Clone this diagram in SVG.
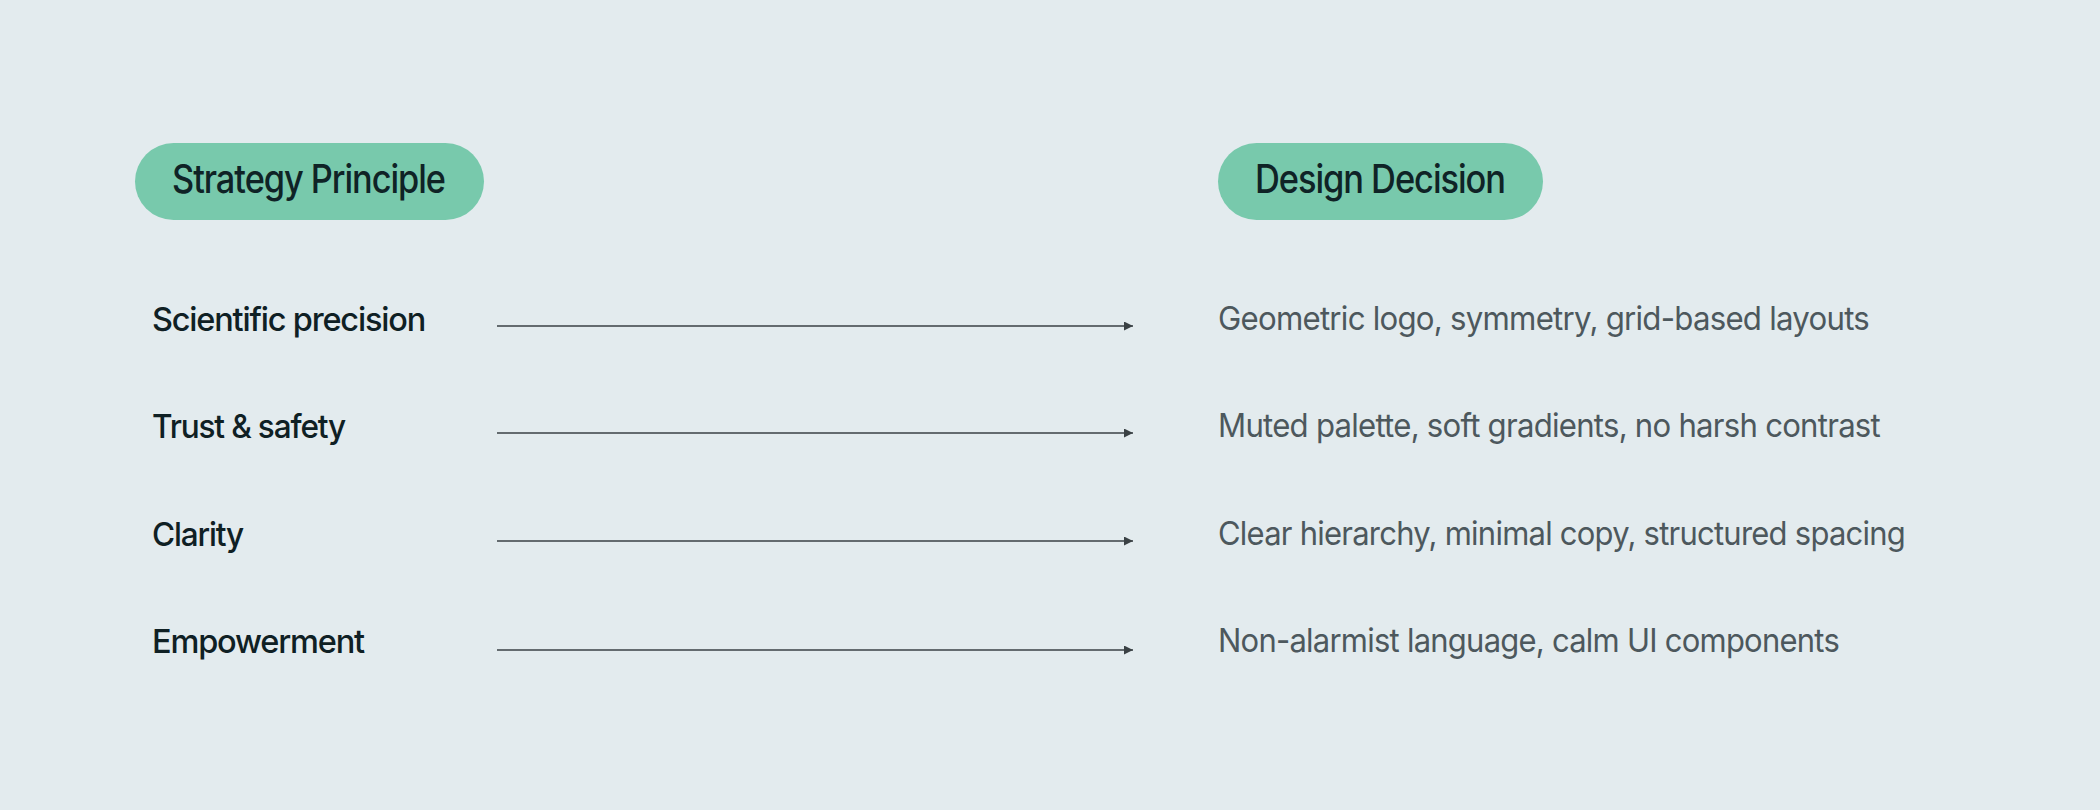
<svg xmlns="http://www.w3.org/2000/svg" width="2100" height="810" viewBox="0 0 2100 810">
<style>
.bg{fill:#e3ebee}
.pill{fill:#78c9ac}
.hdr{font-family:Inter,"Liberation Sans",sans-serif;font-size:39px;font-weight:500;fill:#0f2326;letter-spacing:-1.2px}
.lbl{font-family:Inter,"Liberation Sans",sans-serif;font-size:33px;font-weight:500;fill:#0f2024;letter-spacing:-1.2px}
.dec{font-family:Inter,"Liberation Sans",sans-serif;font-size:33px;font-weight:400;fill:#4d585d;letter-spacing:-0.8px}
.conn{stroke:#3a4144;stroke-width:1.6;fill:none;marker-end:url(#ah)}
</style>
<defs>
<marker id="ah" viewBox="0 0 10 10" refX="10" refY="5" markerWidth="9" markerHeight="9" markerUnits="userSpaceOnUse" orient="auto">
<path d="M0,0 L10,5 L0,10 Z" fill="#3a4144"/>
</marker>
</defs>
<rect class="bg" x="0" y="0" width="2100" height="810"/>
<g id="header-strategy">
<rect class="pill" x="135" y="143" width="349" height="77" rx="38.5"/>
<text class="hdr" x="172" y="193" textLength="273" lengthAdjust="spacingAndGlyphs">Strategy Principle</text>
</g>
<g id="header-design">
<rect class="pill" x="1218" y="143" width="325" height="77" rx="38.5"/>
<text class="hdr" x="1255" y="193" textLength="250" lengthAdjust="spacingAndGlyphs">Design Decision</text>
</g>
<g id="p1"><text class="lbl" x="152" y="331" textLength="273" lengthAdjust="spacingAndGlyphs">Scientific precision</text></g>
<g id="p2"><text class="lbl" x="152" y="438" textLength="193" lengthAdjust="spacingAndGlyphs">Trust &amp; safety</text></g>
<g id="p3"><text class="lbl" x="152" y="546" textLength="91" lengthAdjust="spacingAndGlyphs">Clarity</text></g>
<g id="p4"><text class="lbl" x="152" y="653" textLength="212" lengthAdjust="spacingAndGlyphs">Empowerment</text></g>
<g id="d1"><text class="dec" x="1218" y="330" textLength="651" lengthAdjust="spacingAndGlyphs">Geometric logo, symmetry, grid-based layouts</text></g>
<g id="d2"><text class="dec" x="1218" y="437" textLength="662" lengthAdjust="spacingAndGlyphs">Muted palette, soft gradients, no harsh contrast</text></g>
<g id="d3"><text class="dec" x="1218" y="545" textLength="687" lengthAdjust="spacingAndGlyphs">Clear hierarchy, minimal copy, structured spacing</text></g>
<g id="d4"><text class="dec" x="1218" y="652" textLength="621" lengthAdjust="spacingAndGlyphs">Non-alarmist language, calm UI components</text></g>
<g id="connectors">
<line class="conn" x1="497" y1="326" x2="1133" y2="326"/>
<line class="conn" x1="497" y1="433" x2="1133" y2="433"/>
<line class="conn" x1="497" y1="541" x2="1133" y2="541"/>
<line class="conn" x1="497" y1="650" x2="1133" y2="650"/>
</g>
</svg>
